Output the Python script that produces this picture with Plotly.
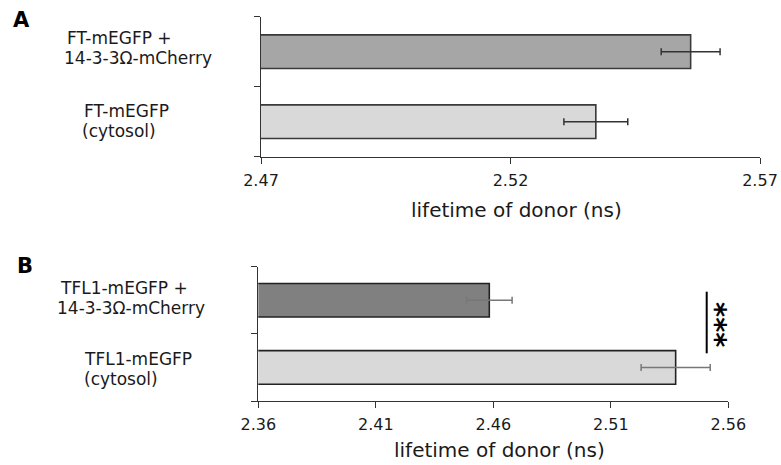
import plotly.graph_objects as go

W, H = 781, 465

# ---- data ----
panel_a_values = [2.5371, 2.5561]          # [cytosol, + 14-3-3]
panel_a_errors = [0.0064, 0.0059]
panel_a_labels = [["FT-mEGFP", "(cytosol)"], ["FT-mEGFP +", "14-3-3Ω-mCherry"]]
panel_a_ticks = [2.47, 2.52, 2.57]

panel_b_values = [2.5376, 2.4583]
panel_b_errors = [0.0147, 0.0097]
panel_b_labels = [["TFL1-mEGFP", "(cytosol)"], ["TFL1-mEGFP +", "14-3-3Ω-mCherry"]]
panel_b_ticks = [2.36, 2.41, 2.46, 2.51, 2.56]

axis_title = "lifetime of donor (ns)"
significance = "***"

FONT = "DejaVu Sans"
TXT = "#1a1a1a"


def px(x):
    return x / W


def py(y):
    return 1 - y / H


fig = go.Figure()

fig.add_trace(go.Bar(
    x=panel_a_values, y=[0, 1], orientation="h", width=0.48,
    marker=dict(color=["#d9d9d9", "#a6a6a6"], line=dict(color="#3a3a3a", width=1.6)),
    error_x=dict(type="data", array=panel_a_errors, visible=True,
                 color="#333333", thickness=1.5, width=3.5),
    xaxis="x", yaxis="y", showlegend=False, hoverinfo="skip",
))
fig.add_trace(go.Bar(
    x=panel_b_values, y=[0, 1], orientation="h", width=0.5,
    marker=dict(color=["#d9d9d9", "#808080"], line=dict(color="#222222", width=1.6)),
    error_x=dict(type="data", array=panel_b_errors, visible=True,
                 color="#777777", thickness=1.5, width=3.5),
    xaxis="x2", yaxis="y2", showlegend=False, hoverinfo="skip",
))

common_x = dict(showgrid=False, zeroline=False, showline=True, linecolor="#333333",
                linewidth=1, ticks="outside", ticklen=6, tickcolor="#333333",
                automargin=False, ticklabelstandoff=3,
                tickfont=dict(family=FONT, size=16, color=TXT))
common_y = dict(showgrid=False, zeroline=False, showline=True, linecolor="#333333",
                linewidth=1.2, ticks="outside", ticklen=6, tickcolor="#333333",
                automargin=False,
                showticklabels=False, tickmode="array", tickvals=[-0.5, 0.5, 1.5],
                range=[-0.5, 1.5])

fig.update_layout(
    width=W, height=H, margin=dict(l=0, r=0, t=0, b=0, autoexpand=False),
    paper_bgcolor="white", plot_bgcolor="white",
    xaxis=dict(domain=[px(261), px(760)], anchor="y", range=[2.47, 2.57],
               tickmode="array", tickvals=panel_a_ticks,
               ticktext=[f"{t:.2f}" for t in panel_a_ticks], **common_x),
    yaxis=dict(domain=[py(156.7), py(16.7)], anchor="x", **common_y),
    xaxis2=dict(domain=[px(258.3), px(728.3)], anchor="y2", range=[2.36, 2.56],
                tickmode="array", tickvals=panel_b_ticks,
                ticktext=[f"{t:.2f}" for t in panel_b_ticks], **common_x),
    yaxis2=dict(domain=[py(401), py(266.7)], anchor="x2", **common_y),
)

ann = []
# category labels (left aligned lines)
label_pos_a = [[(82, 111), (80, 131)], [(65, 38.5), (62, 58.5)]]
label_pos_b = [[(82, 359), (82, 379)], [(58, 287.5), (55, 307.5)]]
for labels, pos in ((panel_a_labels, label_pos_a), (panel_b_labels, label_pos_b)):
    for lines, plist in zip(labels, pos):
        for line, (lx, ly) in zip(lines, plist):
            ann.append(dict(text=line, x=px(lx), y=py(ly), xref="paper", yref="paper",
                            xanchor="left", yanchor="middle", showarrow=False,
                            font=dict(family=FONT, size=17, color=TXT)))

# axis titles
ann.append(dict(text=axis_title, x=px(516), y=py(209.5), xref="paper", yref="paper",
                xanchor="center", yanchor="middle", showarrow=False,
                font=dict(family=FONT, size=20, color=TXT)))
ann.append(dict(text=axis_title, x=px(499), y=py(449.5), xref="paper", yref="paper",
                xanchor="center", yanchor="middle", showarrow=False,
                font=dict(family=FONT, size=20, color=TXT)))

# panel letters
ann.append(dict(text="<b>A</b>", x=px(21.7), y=py(20), xref="paper", yref="paper",
                xanchor="center", yanchor="middle", showarrow=False,
                font=dict(family=FONT, size=21, color="black")))
ann.append(dict(text="<b>B</b>", x=px(25), y=py(265.5), xref="paper", yref="paper",
                xanchor="center", yanchor="middle", showarrow=False,
                font=dict(family=FONT, size=21, color="black")))

# significance stars
ann.append(dict(text="<b>" + significance + "</b>", x=px(716.5), y=py(324.5),
                xref="paper", yref="paper",
                xanchor="center", yanchor="middle", showarrow=False, textangle=90,
                font=dict(family=FONT, size=29, color="black")))

fig.update_layout(annotations=ann)

fig.add_shape(type="line", xref="paper", yref="paper",
              x0=px(706.7), x1=px(706.7), y0=py(291.7), y1=py(353.3),
              line=dict(color="black", width=2))

fig.write_html(
    "out.html",
    config={"displayModeBar": False, "staticPlot": True},
    post_script="document.body.style.margin='0';"
                "document.documentElement.style.overflow='hidden';",
)
